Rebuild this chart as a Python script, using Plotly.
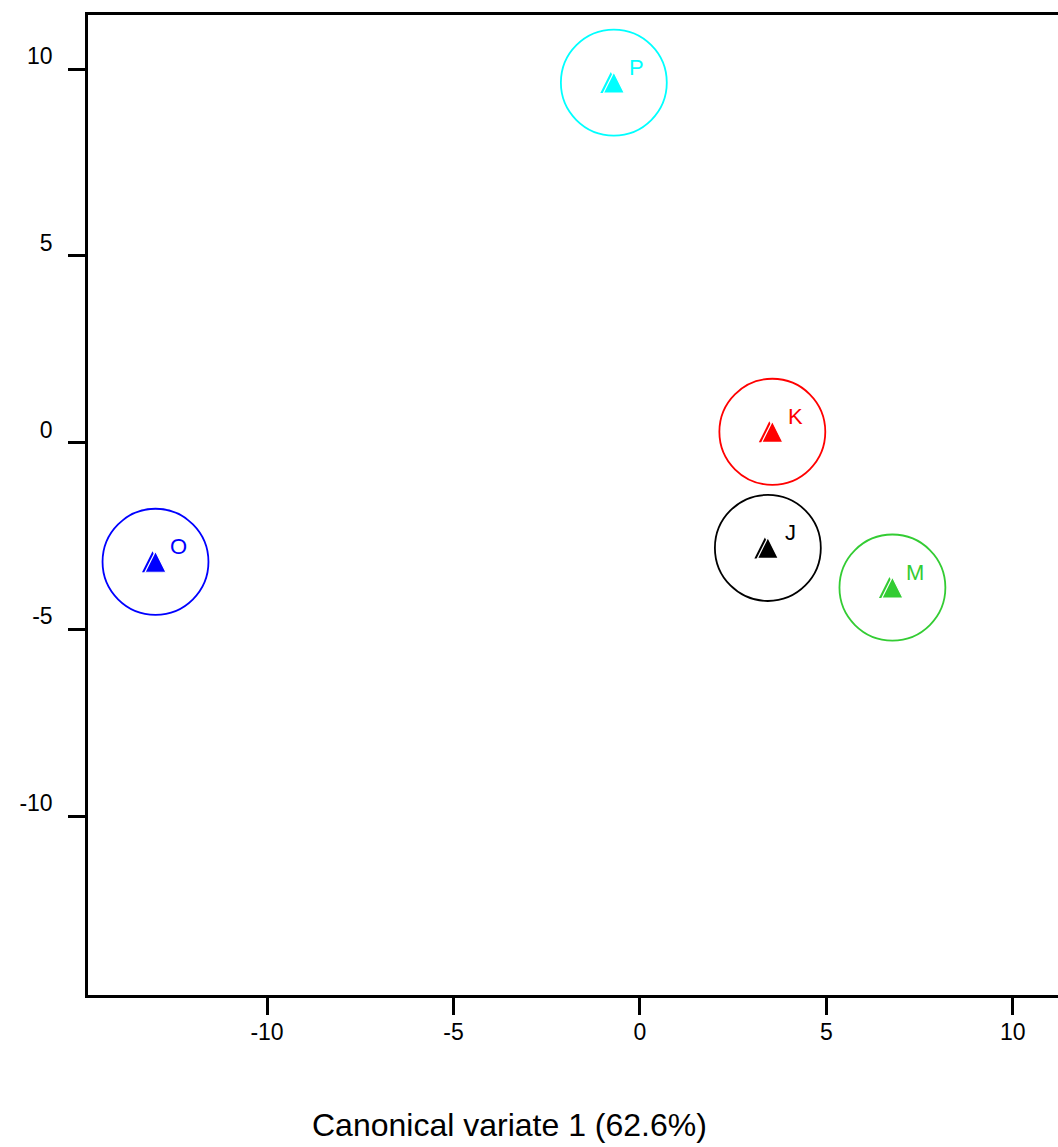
import plotly.graph_objects as go

# Group means on the first two canonical variates
groups = ["P", "K", "J", "M", "O"]
cv1 = [-0.70, 3.55, 3.43, 6.77, -12.99]
cv2 = [9.64, 0.29, -2.82, -3.88, -3.19]
colors = ["#00ffff", "#ff0000", "#000000", "#33cc33", "#0000ff"]
circle_radius = 1.42  # 95% confidence circle, in CV units

x_ticks = [-10, -5, 0, 5, 10]
x_ticktext = ["-10", "-5", "0", "5", "10"]
y_ticks = [-10, -5, 0, 5, 10]
y_ticktext = ["-10", "-5", "0", "5", "10"]

x_title = "Canonical variate 1 (62.6%)"

x_range = [-14.80, 11.21]
y_range = [-14.79, 11.45]

W, H = 1058, 1147
margin = dict(l=88, r=0, t=15, b=152)
plot_w = W - margin["l"] - margin["r"]
plot_h = H - margin["t"] - margin["b"]
px_per_x = plot_w / (x_range[1] - x_range[0])

tri_size = 21
fig = go.Figure()

# back copy of each triangle, nudged left, for the outlined shadow edge
shadow_dx = 3.0 / px_per_x
fig.add_trace(go.Scatter(
    x=[v - shadow_dx for v in cv1], y=cv2, mode="markers",
    marker=dict(symbol="arrow-down", angle=180, standoff=tri_size / 2, size=tri_size,
                color=colors, line=dict(width=0)),
    hoverinfo="skip", showlegend=False,
))
fig.add_trace(go.Scatter(
    x=cv1, y=cv2, mode="markers", text=groups,
    marker=dict(symbol="arrow-down", angle=180, standoff=tri_size / 2, size=tri_size,
                color=colors, line=dict(width=1.2, color="white")),
    showlegend=False,
))

for g, x, y, c in zip(groups, cv1, cv2, colors):
    fig.add_shape(type="circle", xref="x", yref="y",
                  x0=x - circle_radius, x1=x + circle_radius,
                  y0=y - circle_radius, y1=y + circle_radius,
                  line=dict(color=c, width=1.8))
    fig.add_annotation(x=x, y=y, text=g, showarrow=False,
                       xshift=23, yshift=15,
                       font=dict(family="Liberation Sans, Arial", size=22, color=c))

# axis title sits left of the plot-area centre
fig.add_annotation(xref="paper", yref="paper",
                   x=(509 - margin["l"]) / plot_w, y=-(1125 - (H - margin["b"])) / plot_h,
                   xanchor="center", yanchor="middle", showarrow=False,
                   text=x_title,
                   font=dict(family="Liberation Sans, Arial", size=32, color="black"))

axis_font = dict(family="Liberation Sans, Arial", size=23, color="black")
fig.update_xaxes(range=x_range, tickvals=x_ticks, ticktext=x_ticktext,
                 ticks="outside", ticklen=17,
                 tickwidth=2.5, tickcolor="black", showline=True, linewidth=2.5,
                 linecolor="black", mirror=True, showgrid=False, zeroline=False,
                 tickfont=axis_font, ticklabelstandoff=-2)
fig.update_yaxes(range=y_range, tickvals=y_ticks, ticktext=y_ticktext,
                 ticks="outside", ticklen=17,
                 tickwidth=2.5, tickcolor="black", showline=True, linewidth=2.5,
                 linecolor="black", mirror=False, showgrid=False, zeroline=False,
                 tickfont=axis_font, ticklabelshift=-13, ticklabelstandoff=11)

fig.update_layout(width=W, height=H, margin=margin, plot_bgcolor="white",
                  paper_bgcolor="white", showlegend=False)

fig.write_html("out.html")
